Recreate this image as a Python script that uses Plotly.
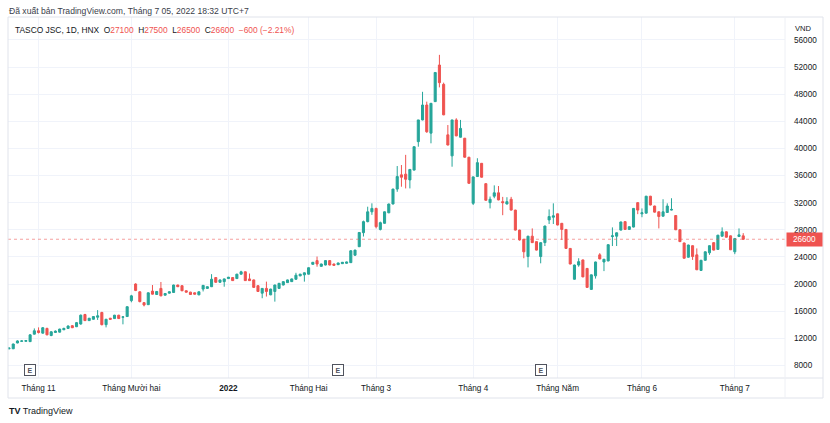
import pandas as pd
import plotly.graph_objects as go

# trading calendar (HNX), holidays removed
holidays = ['2022-01-03', '2022-01-31', '2022-02-01', '2022-02-02', '2022-02-03',
            '2022-02-04', '2022-04-11', '2022-05-02', '2022-05-03']
days = pd.bdate_range('2021-10-21', '2022-07-05')
days = days[~days.isin(pd.to_datetime(holidays))]
dates = days.strftime('%Y-%m-%d').tolist()

opens = [10450, 10450, 11300, 11550, 11550, 11500, 12600, 13100, 12750, 13450,
         12400, 12850, 12900, 13250, 13450, 13850, 13700, 14100, 15500, 14600,
         14800, 15100, 15800, 14000, 14950, 14900, 15400, 15100, 15200, 17550,
         20000, 18850, 17250, 16950, 18950, 18450, 19350, 18350, 18650, 18750,
         19850, 19750, 19000, 18800, 18700, 18400, 19250, 19350, 19600, 20950,
         20250, 20350, 20800, 20950, 20800, 21450, 21800, 20750, 20600, 19750,
         18650, 19350, 18400, 18900, 19350, 19850, 20200, 20350, 20700, 21200,
         21350, 21450, 22900, 23450, 22600, 22800, 23450, 22950, 22850, 23000,
         23050, 23150, 24250, 25500, 27570, 29200, 30650, 31150, 28050, 28950,
         30500, 31800, 34000, 36100, 36200, 35350, 36800, 41000, 44200, 46400,
         42250, 46900, 52300, 49450, 42000, 38900, 44200, 41650, 41500, 38700,
         31900, 35850, 37800, 34800, 32000, 32950, 33450, 32150, 31800, 32500,
         30900, 27950, 26600, 24050, 27050, 26250, 24050, 26100, 29450, 29850,
         30350, 28950, 28050, 25250, 20700, 22800, 23550, 22300, 19200, 21200,
         24300, 23250, 23400, 27000, 27050, 27950, 29200, 28050, 28400, 32000,
         30350, 30450, 32950, 31500, 30650, 30000, 30550, 30900, 30100, 28000,
         26050, 23950, 25650, 24300, 22000, 23500, 24600, 26100, 25100, 27050,
         27700, 27100, 24750, 27000, 27100]
highs = [10600, 11200, 11700, 11700, 11700, 12600, 13450, 13600, 13650, 13550,
         13050, 13150, 13400, 13550, 13900, 13950, 14400, 15500, 15600, 15000,
         15250, 16150, 15900, 14850, 15000, 15450, 15450, 15250, 16700, 18400,
         20100, 18900, 17300, 18750, 19850, 18950, 20300, 18650, 18900, 19900,
         19900, 19800, 19050, 18850, 18750, 18900, 19850, 19650, 21450, 21000,
         20650, 20800, 21050, 21000, 21500, 21950, 21850, 21550, 20650, 19800,
         19400, 20350, 19300, 19900, 20150, 20400, 20650, 20800, 21650, 21500,
         21700, 22450, 23250, 24050, 23000, 23500, 23500, 23000, 23150, 23250,
         23300, 25000, 25050, 27650, 29350, 31400, 31900, 31250, 29200, 30700,
         31850, 34050, 37400, 37550, 39050, 36950, 40300, 44200, 48350, 46900,
         46700, 51250, 53800, 49700, 43450, 44200, 44450, 44200, 41550, 38750,
         35850, 38550, 37850, 34850, 32900, 34550, 34450, 32850, 32800, 32850,
         30950, 28000, 26650, 27100, 28200, 26300, 26150, 28600, 31000, 31900,
         30400, 29000, 28100, 25300, 22850, 23800, 23600, 22350, 21400, 23300,
         24550, 23700, 25850, 28350, 27600, 29200, 29250, 28500, 31200, 32050,
         31150, 33000, 33000, 31550, 30700, 32500, 31900, 32650, 30150, 28050,
         26100, 25800, 25700, 25250, 23550, 24800, 25700, 26150, 27250, 28350,
         27750, 27150, 26750, 28200, 27500]
lows = [10350, 10400, 11250, 11500, 11500, 11450, 12550, 12700, 12700, 12450,
        12300, 12800, 12850, 13200, 13400, 13500, 13650, 14000, 14550, 14550,
        14750, 14700, 13900, 13600, 14750, 14850, 14850, 14050, 15150, 17300,
        18950, 17300, 16700, 16900, 18450, 18400, 18200, 18300, 18600, 18700,
        19550, 18950, 18750, 18400, 18450, 18350, 18900, 19300, 19550, 20200,
        20200, 19600, 20750, 20450, 20750, 21400, 20450, 20450, 19450, 18850,
        17900, 18150, 18350, 17400, 19300, 19800, 20150, 20300, 20600, 21150,
        20350, 21400, 22850, 22550, 22550, 22750, 22750, 22700, 22800, 22950,
        23000, 23100, 24150, 25450, 27000, 29100, 30200, 28200, 27900, 28900,
        30450, 31750, 33600, 34350, 34100, 34100, 36750, 40250, 44150, 42300,
        40750, 46850, 49000, 44900, 40450, 37300, 41800, 41600, 38650, 34800,
        31650, 35800, 35700, 32300, 31150, 32650, 32350, 30150, 31750, 30850,
        27900, 26400, 23800, 22450, 26050, 24950, 23050, 25600, 28850, 28850,
        28650, 26500, 25200, 22900, 20650, 22550, 21000, 19450, 19150, 20800,
        23650, 21900, 23350, 25600, 25600, 27900, 28000, 28000, 28350, 30300,
        29850, 30400, 31600, 30550, 28200, 29950, 30500, 30850, 27950, 26200,
        23750, 23900, 23550, 22050, 21950, 23450, 24300, 24950, 25050, 27000,
        26850, 25000, 24400, 26950, 26500]
closes = [10550, 11150, 11600, 11600, 11650, 12500, 13100, 12850, 13550, 12500,
          12950, 13050, 13350, 13450, 13800, 13550, 14300, 15400, 14600, 14950,
          15200, 15300, 14000, 14800, 14800, 15400, 14900, 15150, 16650, 18250,
          19050, 17400, 16900, 18700, 18500, 18900, 18250, 18600, 18850, 19850,
          19600, 19000, 18800, 18450, 18500, 18850, 19800, 19600, 20700, 20250,
          20600, 20750, 21000, 20500, 21450, 21800, 20500, 20500, 19500, 18900,
          19350, 18900, 19250, 19850, 20100, 20350, 20600, 20750, 21300, 21450,
          21650, 22400, 23200, 22950, 22950, 23450, 22800, 22750, 23100, 23200,
          23250, 24900, 25000, 27600, 29200, 30650, 31150, 28450, 29050, 30650,
          31800, 34000, 35850, 35750, 35450, 36900, 40250, 44200, 46400, 42450,
          46650, 51200, 49700, 44950, 40500, 44200, 41850, 42950, 38700, 34850,
          35800, 37900, 35750, 32350, 32500, 33450, 32400, 32000, 32150, 30900,
          27950, 26500, 24750, 27050, 26100, 25000, 26100, 28550, 29950, 30050,
          28700, 28050, 25250, 22950, 22800, 23300, 21050, 19500, 21350, 23250,
          23700, 23650, 25800, 27100, 27550, 29150, 28050, 28450, 31150, 30900,
          30500, 32950, 31650, 30600, 29950, 30650, 31500, 31000, 28000, 26250,
          23800, 25750, 24050, 22100, 23500, 24750, 25650, 25000, 27200, 27700,
          26900, 25050, 26700, 27250, 26600]

month_ticks = ['2021-11-01', '2021-12-01', '2022-01-04', '2022-02-07', '2022-03-01',
               '2022-04-01', '2022-05-04', '2022-06-01', '2022-07-01']
month_labels = ['Tháng 11', 'Tháng Mười hai', '<b>2022</b>', 'Tháng Hai', 'Tháng 3',
                'Tháng 4', 'Tháng Năm', 'Tháng 6', 'Tháng 7']
price_ticks = list(range(8000, 56001, 4000))
earnings_dates = ['2021-10-28', '2022-02-16', '2022-04-26']
last_price = 26600

UP = '#26a69a'
DOWN = '#ef5350'
TXT = '#131722'
GRID = '#f0f3fa'
BORDER = '#e0e3eb'
FONT = 'Liberation Sans'

# plot box in pixels: x 8..785, y 17..378
W, H = 830, 423
L, R, T, B = 8, 785, 17, 378
pw, ph = R - L, B - T


def px_x(x):
    return (x - L) / pw


def px_y(y):
    return (B - y) / ph


fig = go.Figure()
fig.add_trace(go.Candlestick(
    x=dates, open=opens, high=highs, low=lows, close=closes,
    increasing=dict(line=dict(color=UP, width=1), fillcolor=UP),
    decreasing=dict(line=dict(color=DOWN, width=1), fillcolor=DOWN),
    whiskerwidth=0, hoverinfo='skip', showlegend=False,
))

fig.update_layout(
    width=W, height=H,
    margin=dict(l=L, r=W - R, t=T, b=H - B),
    paper_bgcolor='white', plot_bgcolor='white',
    font=dict(family=FONT, size=8, color=TXT),
    showlegend=False,
    xaxis=dict(
        type='category', rangeslider=dict(visible=False),
        range=[-0.24, 183.9],
        tickvals=month_ticks, ticktext=month_labels,
        showgrid=True, gridcolor=GRID, gridwidth=1,
        ticks='', ticklabelstandoff=4,
        tickfont=dict(family=FONT, size=8.2, color=TXT),
        showline=False, zeroline=False, fixedrange=True,
    ),
    yaxis=dict(
        side='right', range=[6135, 59383],
        tickvals=price_ticks, ticktext=[str(v) for v in price_ticks],
        showgrid=True, gridcolor=GRID, gridwidth=1,
        ticks='', ticklabelstandoff=8,
        tickfont=dict(family=FONT, size=8.2, color=TXT),
        showline=False, zeroline=False, fixedrange=True,
    ),
)

shapes = [
    # last price dotted line
    dict(type='line', xref='paper', yref='y', x0=0, x1=1, y0=last_price, y1=last_price,
         line=dict(color='rgba(239,83,80,0.55)', width=1, dash='dot')),
    # panel border
    dict(type='rect', xref='paper', yref='paper', x0=px_x(8), x1=px_x(823),
         y0=px_y(398), y1=px_y(17), line=dict(color=BORDER, width=1)),
    # time axis separator
    dict(type='line', xref='paper', yref='paper', x0=px_x(8), x1=px_x(823),
         y0=0, y1=0, line=dict(color=BORDER, width=1)),
    # price axis separator
    dict(type='line', xref='paper', yref='paper', x0=1, x1=1,
         y0=px_y(398), y1=px_y(17), line=dict(color='#eef0f5', width=1)),
]
fig.update_layout(shapes=shapes)

annotations = [
    dict(text='Đã xuất bản TradingView.com, Tháng 7 05, 2022 18:32 UTC+7',
         xref='paper', yref='paper', x=px_x(7), y=px_y(11), xanchor='left', yanchor='middle',
         showarrow=False, font=dict(family=FONT, size=8.6, color='#3a3e4a')),
    dict(text=('TASCO JSC, 1D, HNX  O<span style="color:#ef5350">27100</span>'
               '  H<span style="color:#ef5350">27500</span>'
               '  L<span style="color:#ef5350">26500</span>'
               '  C<span style="color:#ef5350">26600</span>'
               '  <span style="color:#ef5350">−600 (−2.21%)</span>'),
         xref='paper', yref='paper', x=px_x(13), y=px_y(30), xanchor='left', yanchor='middle',
         showarrow=False, font=dict(family=FONT, size=8.4, color=TXT)),
    dict(text='VND', xref='paper', yref='paper', x=px_x(793), y=px_y(28),
         xanchor='left', yanchor='middle', showarrow=False,
         font=dict(family=FONT, size=7.6, color=TXT)),
    dict(text=str(last_price), xref='paper', yref='y', x=px_x(786), y=last_price,
         xanchor='left', yanchor='middle', showarrow=False, bgcolor=DOWN,
         width=31, height=9, borderpad=2,
         font=dict(family=FONT, size=8.2, color='white')),
    dict(text='<b>TV</b> TradingView', xref='paper', yref='paper', x=px_x(7), y=px_y(411),
         xanchor='left', yanchor='middle', showarrow=False,
         font=dict(family=FONT, size=9, color='#131722')),
]
for d in earnings_dates:
    annotations.append(dict(
        text='<b>E</b>', xref='x', yref='paper', x=d, y=px_y(370),
        xanchor='center', yanchor='middle', showarrow=False,
        width=8, height=8, borderpad=1, borderwidth=1,
        bordercolor='#50535e', bgcolor='white',
        font=dict(family=FONT, size=7, color='#50535e'),
    ))
fig.update_layout(annotations=annotations)

# page body has a default margin; drop it so the figure sits at the window origin
fig.write_html('out.html', config={'displayModeBar': False},
               post_script="document.body.style.margin='0';")
